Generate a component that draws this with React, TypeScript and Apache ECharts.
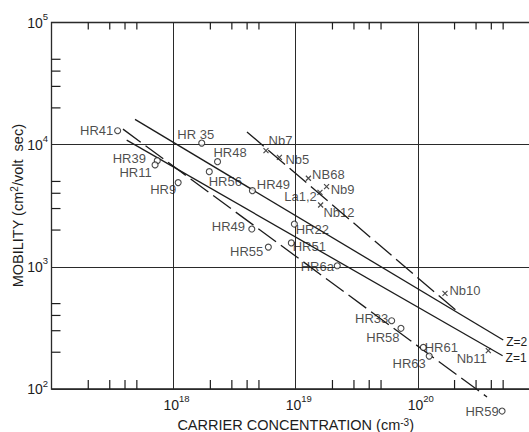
import React, { useEffect, useRef } from "react";
import * as echarts from "echarts";

// ---- data ----
const hrNames = ["HR41", "HR 35", "HR39", "HR11", "HR9", "HR48", "HR56", "HR49", "HR22", "HR51", "HR49", "HR55", "HR6a", "HR33", "HR58", "HR61", "HR63", "HR59"];
const hrCarrier = [3.48e17, 1.7e18, 7.35e17, 7.05e17, 1.09e18, 2.29e18, 1.96e18, 4.42e18, 9.75e18, 9.21e18, 4.37e18, 5.97e18, 2.19e19, 6.11e19, 7.28e19, 1.11e20, 1.24e20, 4.9e20];
const hrMobility = [13000, 10300, 7400, 6830, 4890, 7260, 6010, 4200, 2240, 1570, 2040, 1450, 1020, 362, 314, 219, 186, 66];

const nbNames = ["Nb7", "Nb5", "NB68", "Nb9", "La1,2", "Nb12", "Nb10", "Nb11"];
const nbCarrier = [5.71e18, 7.35e18, 1.27e19, 1.79e19, 1.58e19, 1.6e19, 1.67e20, 3.78e20];
const nbMobility = [8930, 7880, 5310, 4530, 4070, 3210, 607, 206];

const z2Line = [[4.83e17, 16100], [5.01e20, 252]];
const z1Line = [[4.13e17, 10900], [4.95e20, 187]];
const hrFitLine = [[3.85e17, 13400], [3.69e20, 86]];
const nbFitLine = [[3.99e18, 12700], [2.13e20, 427]];

const xTickExponents = [18, 19, 20];
const yTickExponents = [2, 3, 4, 5];
const xMinorTicks = [2e17, 3e17, 4e17, 5e17, 2e18, 3e18, 4e18, 5e18, 2e19, 3e19, 4e19, 5e19, 2e20, 3e20, 4e20, 5e20];
const yMinorTicks = [200, 300, 400, 500, 2000, 3000, 4000, 5000, 20000, 30000, 40000, 50000];

// ---- label placement (offset of label centre from marker, px) ----
const hrLabelOffsets = [[-21, 0], [-6, -9], [-28, -2], [-19.5, 8], [-15, 7], [12.5, -9.5], [16, 10], [21, -6.4], [18, 5], [18, 4], [-23.4, -2.3], [-21.7, 4.4], [-20, 1], [-20, -2], [-18, 9], [18, 0], [-20, 7], [-20, 0]];
const nbLabelOffsets = [[14.5, -10], [18, 2], [20, -4], [16, 2.6], [-19.5, 3.7], [18.3, 7.7], [20, -3.3], [-16.6, 7.6]];

const FONT = '"Liberation Sans", Arial, sans-serif';
const INK = "#1c1c1c";
const X_MIN = 1e17, X_MAX = 1e21, Y_MIN = 100, Y_MAX = 1e5;

function supRich(base: number, sup: number, lh: number) {
  return {
    b: { fontSize: base, fontFamily: FONT, color: INK, lineHeight: lh },
    s: { fontSize: sup, fontFamily: FONT, color: INK, lineHeight: sup + 0.5, verticalAlign: "top" },
  };
}

export default function App() {
  const ref = useRef<HTMLDivElement>(null);
  useEffect(() => {
    if (!ref.current) return;
    const chart = echarts.init(ref.current, undefined, { renderer: "svg" });
    const labelStyle = { fontSize: 13, fontFamily: FONT, color: INK, textBorderWidth: 0, textBorderColor: "transparent", textShadowBlur: 0 };

    const tickSeries = (vals: number[], kind: "bottom" | "top" | "left") => ({
      type: "custom",
      coordinateSystem: "cartesian2d",
      silent: true,
      clip: false,
      z: 4,
      data: vals.map((v) => (kind === "left" ? [X_MIN, v] : [v, kind === "bottom" ? Y_MIN : Y_MAX])),
      renderItem: (params: any, api: any) => {
        const p = api.coord([api.value(0), api.value(1)]);
        let x2 = p[0], y2 = p[1];
        if (kind === "bottom") y2 = p[1] - 9;
        else if (kind === "top") y2 = p[1] + 7;
        else x2 = p[0] + 9;
        return { type: "line", shape: { x1: p[0], y1: p[1], x2, y2 }, style: { stroke: INK, lineWidth: 1.2 } };
      },
    });

    const lineBase = { type: "line", showSymbol: false, symbol: "none", silent: true, clip: false, z: 3 };
    const zLabelStyle = { ...labelStyle, fontSize: 12 };

    chart.setOption({
      animation: false,
      backgroundColor: "#ffffff",
      grid: {
        left: 51.5, right: -10.9, top: 22.5, bottom: 43,
        outerBoundsMode: "none", containLabel: false,
        show: true, borderColor: INK, borderWidth: 1.3,
      },
      xAxis: {
        type: "log", logBase: 10, min: X_MIN, max: X_MAX,
        axisLine: { show: false }, axisTick: { show: false },
        splitLine: { show: true, lineStyle: { color: "#2a2a2a", width: 1 } },
        axisLabel: {
          margin: 4.5, padding: [0, 0, 0, 6], showMinLabel: false, showMaxLabel: false,
          formatter: (v: number) => {
            const e = Math.round(Math.log10(v));
            return xTickExponents.includes(e) ? `{b|10}{s|${e}}` : "";
          },
          rich: supRich(14, 9.5, 22),
        },
        name: "{n|CARRIER CONCENTRATION (cm}{s|-3}{n|)}",
        nameLocation: "middle", nameGap: 28, nameMoveOverlap: false,
        nameTextStyle: {
          rich: {
            n: { fontSize: 14.5, fontFamily: FONT, color: INK, lineHeight: 15 },
            s: { fontSize: 10, fontFamily: FONT, color: INK, lineHeight: 6, verticalAlign: "top" },
          },
        },
      },
      yAxis: {
        type: "log", logBase: 10, min: Y_MIN, max: Y_MAX,
        axisLine: { show: false }, axisTick: { show: false },
        splitLine: { show: true, lineStyle: { color: "#2a2a2a", width: 1 } },
        axisLabel: {
          margin: 3.5,
          formatter: (v: number) => {
            const e = Math.round(Math.log10(v));
            return yTickExponents.includes(e) ? `{b|10}{s|${e}}` : "";
          },
          rich: supRich(14, 9.5, 22),
        },
        name: "{n|MOBILITY (cm}{s|2}{n|/volt  sec)}",
        nameLocation: "middle", nameGap: 26, nameMoveOverlap: false,
        nameTextStyle: {
          rich: {
            n: { fontSize: 14.5, fontFamily: FONT, color: INK, lineHeight: 16 },
            s: { fontSize: 10, fontFamily: FONT, color: INK, lineHeight: 7, verticalAlign: "top" },
          },
        },
      },
      series: [
        tickSeries(xMinorTicks, "bottom"),
        tickSeries(xMinorTicks, "top"),
        tickSeries(yMinorTicks, "left"),
        {
          ...lineBase, data: z2Line, lineStyle: { color: INK, width: 1.3 },
          endLabel: { show: true, formatter: "Z=2", distance: 3, offset: [0, 2.5], ...zLabelStyle },
        },
        {
          ...lineBase, data: z1Line, lineStyle: { color: INK, width: 1.3 },
          endLabel: { show: true, formatter: "Z=1", distance: 3, offset: [0, 2.5], ...zLabelStyle },
        },
        { ...lineBase, data: hrFitLine, lineStyle: { color: INK, width: 1.3, type: [22, 6] } },
        { ...lineBase, data: nbFitLine, lineStyle: { color: INK, width: 1.3, type: [22, 6] } },
        {
          type: "scatter", clip: false, z: 5, silent: true,
          symbol: "circle", symbolSize: 6,
          itemStyle: { color: "#ffffff", borderColor: INK, borderWidth: 1.1 },
          data: hrNames.map((n, i) => ({
            value: [hrCarrier[i], hrMobility[i]], name: n,
            label: { show: true, position: "inside", formatter: n, offset: hrLabelOffsets[i], ...labelStyle },
          })),
        },
        {
          type: "scatter", clip: false, z: 5, silent: true,
          symbol: "path://M0 0L10 10M10 0L0 10", symbolSize: 5,
          itemStyle: { color: "rgba(0,0,0,0)", borderColor: INK, borderWidth: 1.2 },
          data: nbNames.map((n, i) => ({
            value: [nbCarrier[i], nbMobility[i]], name: n,
            label: { show: true, position: "inside", formatter: n, offset: nbLabelOffsets[i], ...labelStyle },
          })),
        },
      ],
    });
    return () => chart.dispose();
  }, []);
  return <div ref={ref} style={{ position: "fixed", left: 0, top: 0, width: 529, height: 432, background: "#fff" }} />;
}
